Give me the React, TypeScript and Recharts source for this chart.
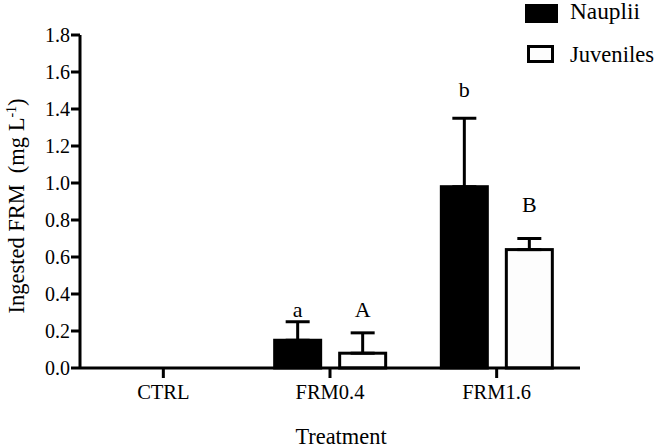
import React from 'react';
import { BarChart, Bar, XAxis, YAxis, ErrorBar, Legend, Label } from 'recharts';

const categories = ['CTRL', 'FRM0.4', 'FRM1.6'];
const naupliiMeans = [0, 0.15, 0.98];
const naupliiSD = [0, 0.1, 0.37];
const juvenileMeans = [0, 0.08, 0.64];
const juvenileSD = [0, 0.11, 0.06];
const naupliiLetters = ['', 'a', 'b'];
const juvenileLetters = ['', 'A', 'B'];
const naupliiLetterLevels = [0, 0.276, 1.465];
const juvenileLetterLevels = [0, 0.276, 0.843];
const yTicks = [0, 0.2, 0.4, 0.6, 0.8, 1.0, 1.2, 1.4, 1.6, 1.8];

const data = categories.map((c, i) => ({
  name: c,
  nauplii: naupliiMeans[i],
  naupliiErr: naupliiSD[i] ? [0, naupliiSD[i]] : null,
  naupliiLetter: naupliiLetters[i],
  naupliiLevel: naupliiLetterLevels[i],
  juveniles: juvenileMeans[i],
  juvenilesErr: juvenileSD[i] ? [0, juvenileSD[i]] : null,
  juvenilesLetter: juvenileLetters[i],
  juvenilesLevel: juvenileLetterLevels[i],
}));

const FONT = '"Liberation Serif", "Times New Roman", serif';

const makeShape = (key: string) => (props: any) => {
  const { x, y, width, height, fill, stroke, strokeWidth, payload } = props;
  const v = payload ? payload[key] : 0;
  const h = Number(height);
  if (!v || !h) return <g />;
  const px = h / v;
  const letter = payload[key + 'Letter'];
  const level = payload[key + 'Level'];
  const base = Number(y) + h - level * px;
  return (
    <g>
      <rect x={x} y={y} width={width} height={h} fill={fill} stroke={stroke} strokeWidth={strokeWidth} />
      {letter ? (
        <text
          x={Number(x) + Number(width) / 2}
          y={base}
          textAnchor="middle"
          fontFamily={FONT}
          fontSize={22}
          fill="#000"
        >
          {letter}
        </text>
      ) : null}
    </g>
  );
};

const LegendContent = () => (
  <svg width={657} height={70} style={{ position: 'absolute', left: 0, top: 0, overflow: 'visible' }}>
    <rect x={525} y={4} width={33} height={19} fill="#000" />
    <text x={570} y={19} fontFamily={FONT} fontSize={22.5} fill="#000" textLength={70} lengthAdjust="spacingAndGlyphs">
      Nauplii
    </text>
    <rect x={528.5} y={46.5} width={24} height={15} fill="#fdfdfd" stroke="#000" strokeWidth={3} />
    <text x={570} y={62} fontFamily={FONT} fontSize={22.5} fill="#000" textLength={84} lengthAdjust="spacingAndGlyphs">
      Juveniles
    </text>
  </svg>
);

const YTitle = () => (
  <text
    transform="translate(24, 206) rotate(-90)"
    textAnchor="middle"
    fontFamily={FONT}
    fontSize={22.5}
    fill="#000"
  >
    <tspan>Ingested</tspan>
    <tspan dx={5.6}>FRM</tspan>
    <tspan dx={11}>(mg</tspan>
    <tspan dx={5.6}>L</tspan>
    <tspan dy={-8} fontSize={14}>-1</tspan>
    <tspan dy={8}>)</tspan>
  </text>
);

const XTitle = () => (
  <text x={341} y={444} textAnchor="middle" fontFamily={FONT} fontSize={22.4} fill="#000">
    Treatment
  </text>
);

export default function App() {
  return (
    <div style={{ position: 'absolute', left: 0, top: 0, width: 657, height: 448, background: '#fff' }}>
      <BarChart
        width={657}
        height={448}
        data={data}
        margin={{ top: 35, right: 77, bottom: 0, left: 0 }}
        barSize={46}
        barGap={19}
      >
        <XAxis
          dataKey="name"
          height={80}
          axisLine={{ stroke: '#000', strokeWidth: 3 }}
          tickLine={{ stroke: '#000', strokeWidth: 3 }}
          tickSize={10}
          tickMargin={6}
          tick={{ fill: '#000', fontFamily: FONT, fontSize: 20.5 }}
        >
          <Label content={<XTitle />} />
        </XAxis>
        <YAxis
          width={80}
          domain={[0, 1.8]}
          ticks={yTicks}
          interval={0}
          tickFormatter={(v: number) => v.toFixed(1)}
          axisLine={{ stroke: '#000', strokeWidth: 3 }}
          tickLine={{ stroke: '#000', strokeWidth: 3 }}
          tickSize={9}
          tickMargin={1}
          tick={{ fill: '#000', fontFamily: FONT, fontSize: 20 }}
        >
          <Label content={<YTitle />} />
        </YAxis>
        <Legend content={<LegendContent />} wrapperStyle={{ position: 'absolute', left: 0, top: 0, width: 0, height: 0 }} />
        <Bar
          dataKey="nauplii"
          fill="#000"
          stroke="#000"
          strokeWidth={3}
          isAnimationActive={false}
          shape={makeShape('nauplii')}
        >
          <ErrorBar dataKey="naupliiErr" direction="y" width={12} stroke="#000" strokeWidth={3} />
        </Bar>
        <Bar
          dataKey="juveniles"
          fill="#fdfdfd"
          stroke="#000"
          strokeWidth={3}
          isAnimationActive={false}
          shape={makeShape('juveniles')}
        >
          <ErrorBar dataKey="juvenilesErr" direction="y" width={12} stroke="#000" strokeWidth={3} />
        </Bar>
      </BarChart>
    </div>
  );
}
